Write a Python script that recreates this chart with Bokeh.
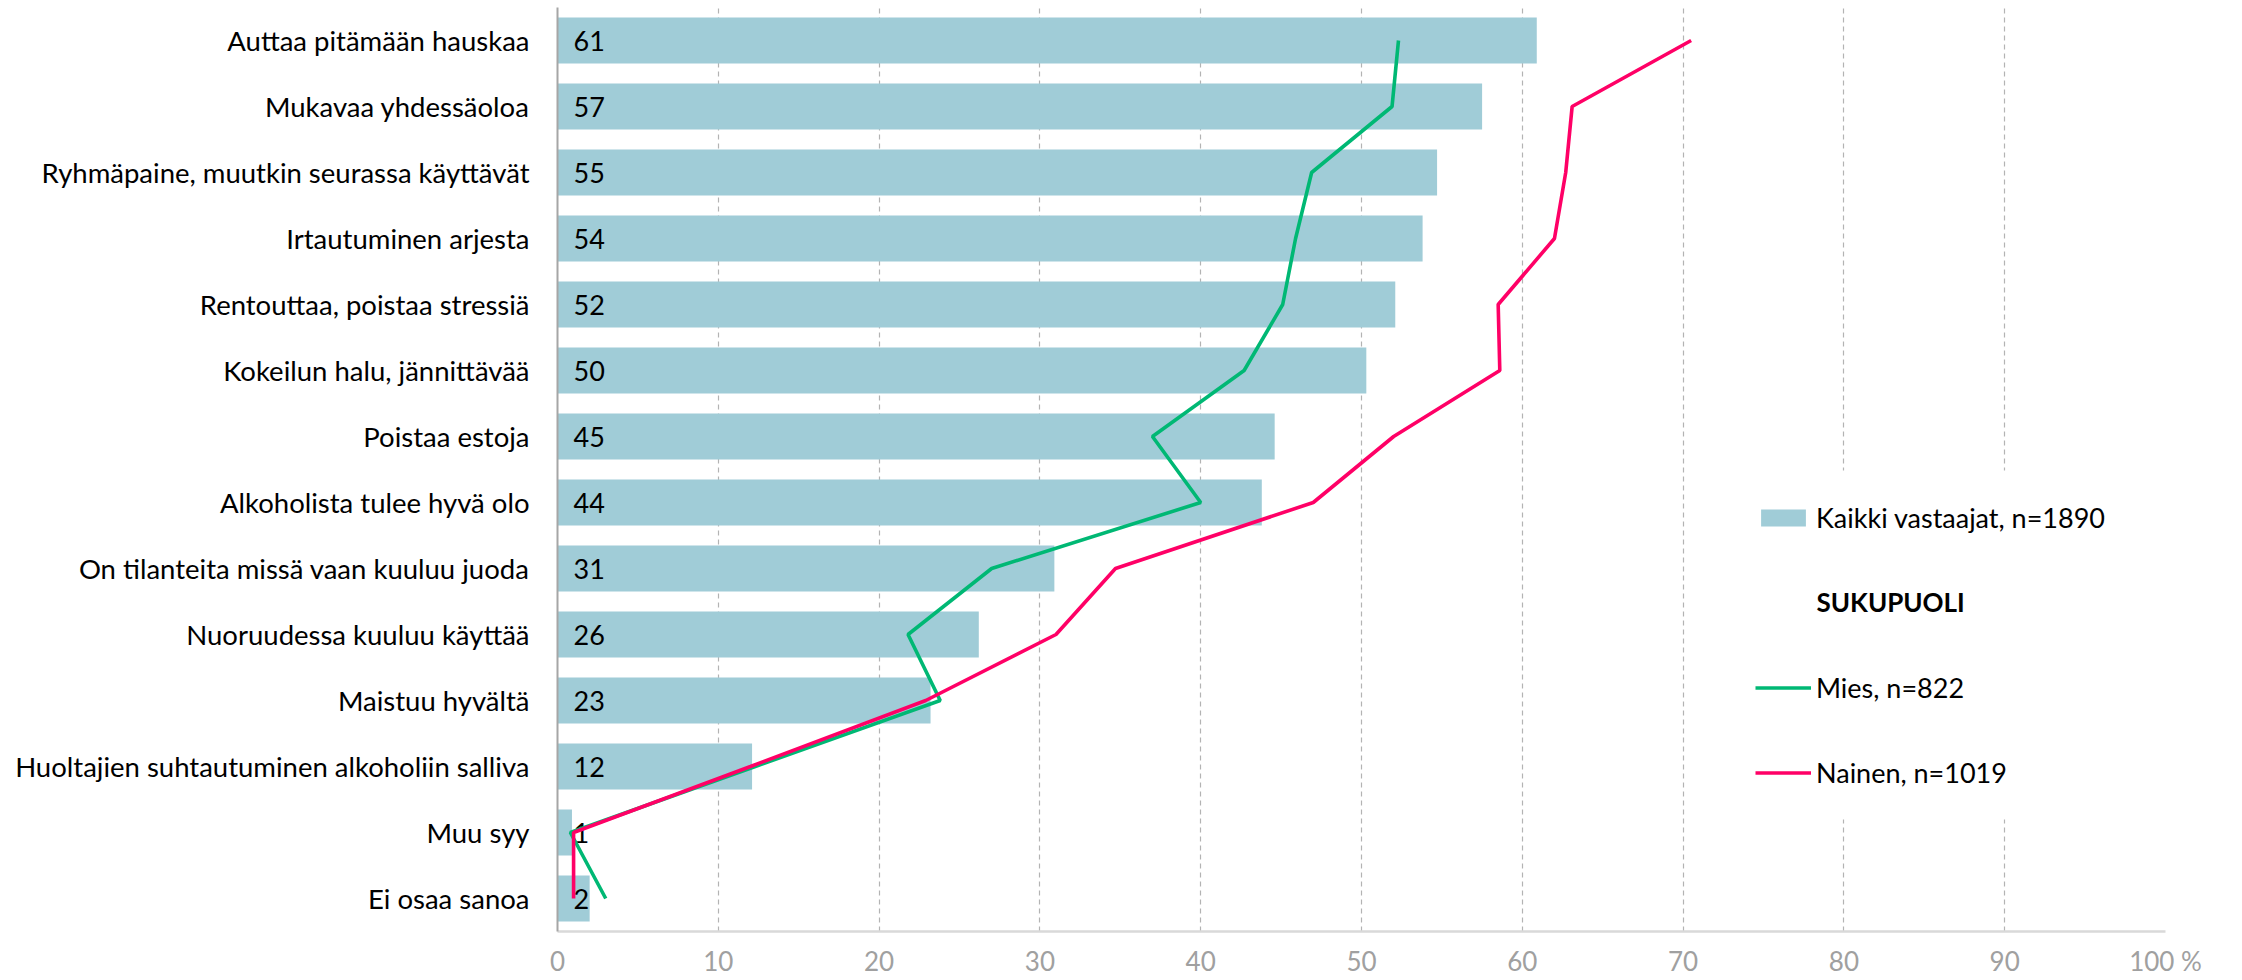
from bokeh.plotting import figure
from bokeh.models import (Range1d, FactorRange, FixedTicker, Legend, LegendItem, Label,
                          ColumnDataSource, BoxAnnotation)
from bokeh.core.properties import value
from bokeh.embed import file_html
from bokeh.resources import INLINE

categories = [
    "Auttaa pitämään hauskaa",
    "Mukavaa yhdessäoloa",
    "Ryhmäpaine, muutkin seurassa käyttävät",
    "Irtautuminen arjesta",
    "Rentouttaa, poistaa stressiä",
    "Kokeilun halu, jännittävää",
    "Poistaa estoja",
    "Alkoholista tulee hyvä olo",
    "On tilanteita missä vaan kuuluu juoda",
    "Nuoruudessa kuuluu käyttää",
    "Maistuu hyvältä",
    "Huoltajien suhtautuminen alkoholiin salliva",
    "Muu syy",
    "Ei osaa sanoa",
]
kaikki = [60.9, 57.5, 54.7, 53.8, 52.1, 50.3, 44.6, 43.8, 30.9, 26.2, 23.2, 12.1, 0.9, 2.0]
kaikki_labels = ["61", "57", "55", "54", "52", "50", "45", "44", "31", "26", "23", "12", "1", "2"]
mies = [52.3, 51.9, 46.9, 45.9, 45.1, 42.7, 37.0, 40.0, 27.0, 21.8, 23.8, 12.3, 0.8, 3.0]
nainen = [70.5, 63.1, 62.7, 62.0, 58.5, 58.6, 52.0, 47.0, 34.7, 31.0, 22.9, 12.0, 1.0, 1.0]
x_ticks = [0, 10, 20, 30, 40, 50, 60, 70, 80, 90, 100]
x_tick_labels = ["0", "10", "20", "30", "40", "50", "60", "70", "80", "90", "100 %"]

series_names = ["Kaikki vastaajat, n=1890", "Mies, n=822", "Nainen, n=1019"]
group_title = "SUKUPUOLI"

FONT = "Lato"
BAR = "#a0ccd7"
GREEN = "#00b874"
PINK = "#ff0066"

src = ColumnDataSource(dict(cat=categories, kaikki=kaikki, lab=kaikki_labels,
                            mies=mies, nainen=nainen))

p = figure(width=2242, height=980,
           y_range=FactorRange(factors=categories[::-1]),
           x_range=Range1d(0, 100),
           output_backend="svg", toolbar_location=None,
           min_border_left=557, min_border_right=77,
           min_border_top=7, min_border_bottom=49)
p.outline_line_color = None
p.background_fill_color = "white"
p.border_fill_color = "white"

bars = p.hbar(y="cat", right="kaikki", left=0, height=0.7, source=src,
              fill_color=BAR, line_color=None)
p.text(x=0, y="cat", text="lab", source=src, x_offset=16,
       text_align="left", text_baseline="middle",
       text_font=value(FONT), text_font_size="27px", text_color="#000000")
l_m = p.line(x="mies", y="cat", source=src, line_color=GREEN, line_width=3.6)
l_n = p.line(x="nainen", y="cat", source=src, line_color=PINK, line_width=3.6)
dummy = p.line(x=[], y=[], line_alpha=0)

# axes
p.xaxis.ticker = FixedTicker(ticks=x_ticks)
p.xaxis.major_label_overrides = {t: l for t, l in zip(x_ticks, x_tick_labels)}
p.xaxis.axis_line_color = "#d9d9d9"
p.xaxis.axis_line_width = 2.5
p.xaxis.major_tick_line_color = None
p.xaxis.major_tick_out = 0
p.xaxis.major_tick_in = 0
p.xaxis.minor_tick_line_color = None
p.xaxis.major_label_standoff = 13
p.xaxis.major_label_text_font = FONT
p.xaxis.major_label_text_font_size = "26px"
p.xaxis.major_label_text_color = "#a0a0a0"

p.yaxis.axis_line_color = "#a6a6a6"
p.yaxis.axis_line_width = 2
p.yaxis.major_tick_line_color = None
p.yaxis.major_tick_out = 0
p.yaxis.major_tick_in = 0
p.yaxis.minor_tick_line_color = None
p.yaxis.major_label_standoff = 28
p.yaxis.major_label_text_font = FONT
p.yaxis.major_label_text_font_size = "27.5px"
p.yaxis.major_label_text_color = "#000000"

p.ygrid.grid_line_color = None
p.xgrid.ticker = FixedTicker(ticks=x_ticks[1:])
p.xgrid.grid_line_color = "#b3b3b3"
p.xgrid.grid_line_dash = "5 4"
p.xgrid.grid_line_width = 1.2

# white panel behind the legend (hides the gridlines there)
p.add_layout(BoxAnnotation(left=73.1, right=97.8, left_units="data", right_units="data",
                           top=461, bottom=112, top_units="screen", bottom_units="screen",
                           fill_color="white", fill_alpha=1.0, line_color=None,
                           level="underlay"))

legend = Legend(items=[
    LegendItem(label=value(series_names[0]), renderers=[bars]),
    LegendItem(label=value(" "), renderers=[dummy]),
    LegendItem(label=value(series_names[1]), renderers=[l_m]),
    LegendItem(label=value(series_names[2]), renderers=[l_n]),
], location=(1198, 142))
legend.padding = 10
legend.margin = 0
legend.spacing = 52
legend.glyph_width = 56
legend.glyph_height = 21
legend.label_height = 33
legend.label_standoff = 5
legend.label_text_font = FONT
legend.label_text_font_size = "27px"
legend.label_text_color = "#000000"
legend.border_line_color = None
legend.background_fill_alpha = 0.0
p.add_layout(legend, "center")

p.add_layout(Label(x=1259, y=330, x_units="screen", y_units="screen",
                   text=group_title, text_font=FONT, text_font_size="26px",
                   text_font_style="bold", text_baseline="middle",
                   text_color="#000000"))

open("out.html", "w").write(file_html(p, INLINE))
